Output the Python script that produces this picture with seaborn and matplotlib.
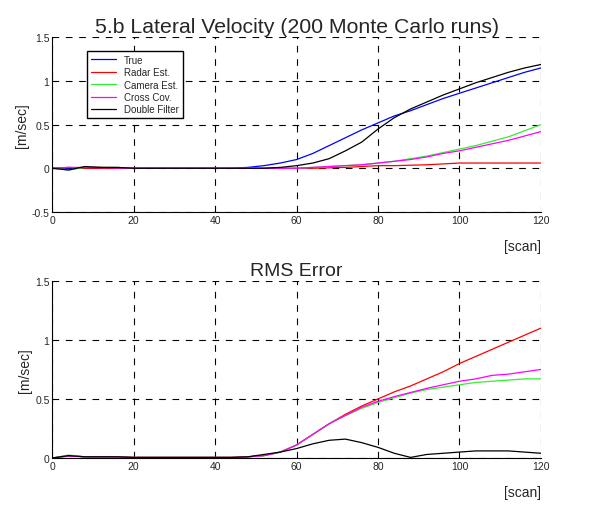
import numpy as np
import pandas as pd
import seaborn as sns
import matplotlib.pyplot as plt

# scan index (every 4 scans)
scan = list(range(0, 121, 4))

# 5.b lateral velocity, mean over 200 runs
vel_true = [0, 0, 0, 0, 0, 0, 0, 0, 0, 0, 0, 0, 0.01, 0.03, 0.06, 0.10,
            0.17, 0.26, 0.35, 0.44, 0.52, 0.60, 0.66, 0.73, 0.80, 0.86,
            0.92, 0.98, 1.04, 1.10, 1.15]
vel_radar = [0, 0.01, 0, 0, 0, 0, 0, 0, 0, 0, 0, 0, 0, 0, 0, 0,
             0, 0.005, 0.01, 0.02, 0.03, 0.03, 0.035, 0.04, 0.05, 0.06,
             0.06, 0.06, 0.06, 0.06, 0.06]
vel_camera = [0, -0.02, 0.01, 0.01, 0.01, 0, 0, 0, 0, 0, 0, 0, 0, 0, 0, 0,
              0.01, 0.02, 0.03, 0.04, 0.06, 0.08, 0.11, 0.14, 0.18, 0.22,
              0.26, 0.31, 0.36, 0.43, 0.50]
vel_cross = [0, 0.01, 0.01, 0.01, 0.005, 0, 0, 0, 0, 0, 0, 0, 0, 0, 0, 0,
             0.01, 0.02, 0.03, 0.04, 0.06, 0.08, 0.10, 0.13, 0.17, 0.20,
             0.24, 0.28, 0.32, 0.37, 0.42]
vel_double = [0, -0.02, 0.02, 0.01, 0.01, 0, 0, 0, 0, 0, 0, 0, 0, 0, 0.01, 0.03,
              0.06, 0.11, 0.20, 0.30, 0.45, 0.58, 0.68, 0.76, 0.84, 0.91,
              0.98, 1.04, 1.10, 1.15, 1.19]

# RMS error
rms_radar = [0, 0.02, 0.01, 0.01, 0.01, 0.005, 0.005, 0.005, 0.005, 0.005, 0.005, 0.005, 0.01, 0.02, 0.05, 0.11,
             0.20, 0.29, 0.37, 0.44, 0.50, 0.56, 0.61, 0.67, 0.73, 0.80,
             0.86, 0.92, 0.98, 1.04, 1.10]
rms_camera = [0, 0.025, 0.01, 0.01, 0.01, 0.005, 0.005, 0.005, 0.005, 0.005, 0.005, 0.005, 0.01, 0.02, 0.05, 0.11,
              0.20, 0.29, 0.36, 0.42, 0.47, 0.51, 0.55, 0.58, 0.60, 0.62,
              0.64, 0.65, 0.66, 0.67, 0.67]
rms_cross = [0, 0.015, 0.01, 0.01, 0.01, 0.005, 0.005, 0.005, 0.005, 0.005, 0.005, 0.005, 0.01, 0.02, 0.05, 0.11,
             0.20, 0.29, 0.36, 0.43, 0.48, 0.52, 0.555, 0.59, 0.62, 0.65,
             0.67, 0.70, 0.71, 0.73, 0.75]
rms_double = [0, 0.02, 0.01, 0.01, 0.01, 0.005, 0.005, 0.005, 0.005, 0.005, 0.005, 0.005, 0.01, 0.03, 0.05, 0.08,
              0.12, 0.15, 0.16, 0.13, 0.09, 0.04, 0.005, 0.03, 0.04, 0.05,
              0.06, 0.06, 0.06, 0.05, 0.04]

labels = ["True", "Radar Est.", "Camera Est.", "Cross Cov.", "Double Filter"]
colors = ["#0000ff", "#ff0000", "#33ee33", "#ff00ff", "#000000"]

sns.set_style("white")
plt.rcParams['font.family'] = ['Liberation Sans', 'DejaVu Sans']

fig = plt.figure(figsize=(6.13, 5.06), dpi=100)
ax1 = fig.add_axes([0.0853, 0.5793, 0.797, 0.3447])
ax2 = fig.add_axes([0.0853, 0.0929, 0.797, 0.350])


def style(ax, ylim, yticks):
    ax.set_xlim(0, 120)
    ax.set_ylim(*ylim)
    ax.set_xticks([0, 20, 40, 60, 80, 100, 120])
    ax.set_yticks(yticks)
    ax.set_yticklabels([("%g" % t) for t in yticks])
    ax.grid(True, color="black", linestyle=(0, (6, 6)), linewidth=0.8)
    for s in ["top", "right"]:
        ax.spines[s].set_visible(False)
    for s in ["left", "bottom"]:
        ax.spines[s].set_color("black")
        ax.spines[s].set_linewidth(0.8)
    ax.tick_params(direction="in", length=3, labelsize=7.5, color="black", pad=2)
    ax.set_ylabel("[m/sec]", fontsize=10, labelpad=2)
    ax.set_xlabel("[scan]", fontsize=10, loc="right", labelpad=10)


top = [vel_true, vel_radar, vel_camera, vel_cross, vel_double]
for lab, col, vals in zip(labels, colors, top):
    sns.lineplot(x=scan, y=vals, color=col, linewidth=0.9, label=lab, ax=ax1)
style(ax1, (-0.5, 1.5), [-0.5, 0, 0.5, 1, 1.5])
ax1.set_title("5.b Lateral Velocity (200 Monte Carlo runs)", fontsize=15.3, pad=4)
leg = ax1.legend(loc="upper left", bbox_to_anchor=(0.061, 0.951), fontsize=7,
                 handlelength=2.6, borderpad=0.4, labelspacing=0.25,
                 fancybox=False, framealpha=1, edgecolor="black")
leg.get_frame().set_linewidth(1.0)

bottom = [rms_radar, rms_camera, rms_cross, rms_double]
for col, vals in zip(colors[1:], bottom):
    sns.lineplot(x=scan, y=vals, color=col, linewidth=0.9, ax=ax2)
style(ax2, (0, 1.5), [0, 0.5, 1, 1.5])
ax2.set_title("RMS Error", fontsize=14, pad=4)

fig.savefig("out.png", dpi=100)
